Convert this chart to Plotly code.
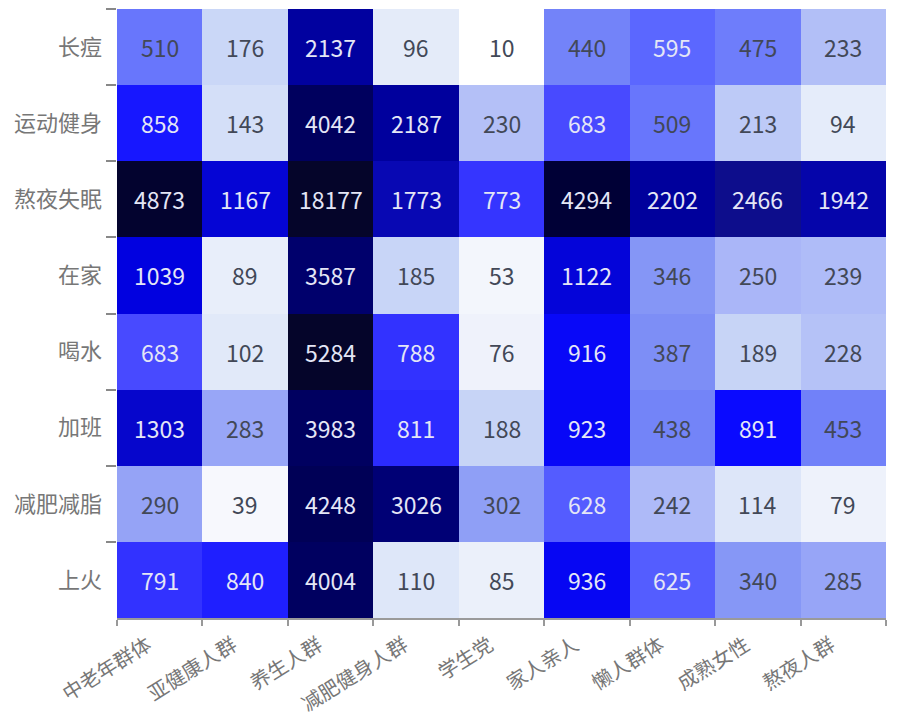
import numpy as np
import plotly.graph_objects as go

# ---------------- data ----------------
groups = ["中老年群体", "亚健康人群", "养生人群", "减肥健身人群", "学生党",
          "家人亲人", "懒人群体", "成熟女性", "熬夜人群"]
topics = ["长痘", "运动健身", "熬夜失眠", "在家", "喝水", "加班", "减肥减脂", "上火"]

row_changdou = [510, 176, 2137, 96, 10, 440, 595, 475, 233]
row_yundong = [858, 143, 4042, 2187, 230, 683, 509, 213, 94]
row_aoye = [4873, 1167, 18177, 1773, 773, 4294, 2202, 2466, 1942]
row_zaijia = [1039, 89, 3587, 185, 53, 1122, 346, 250, 239]
row_heshui = [683, 102, 5284, 788, 76, 916, 387, 189, 228]
row_jiaban = [1303, 283, 3983, 811, 188, 923, 438, 891, 453]
row_jianfei = [290, 39, 4248, 3026, 302, 628, 242, 114, 79]
row_shanghuo = [791, 840, 4004, 110, 85, 936, 625, 340, 285]

values = np.array([row_changdou, row_yundong, row_aoye, row_zaijia,
                   row_heshui, row_jiaban, row_jianfei, row_shanghuo], dtype=float)

# ---------------- style ----------------
vmin, vmax = 10, 5300
color_stops = [
    (10, "#ffffff"), (40, "#f7f8fd"), (80, "#eef2fb"), (100, "#e2eaf9"),
    (150, "#d2ddf8"), (200, "#c4d2f6"), (250, "#aab6f8"), (300, "#909ff6"),
    (400, "#7a8cf6"), (500, "#6a78fc"), (600, "#5a66ff"), (700, "#4545ff"),
    (800, "#3030ff"), (890, "#0a0aff"), (1000, "#0000e4"), (1200, "#0606d2"),
    (1800, "#0808b2"), (2200, "#00009c"), (2500, "#0e0e8a"), (3000, "#000075"),
    (3600, "#00006c"), (4000, "#000060"), (4260, "#000056"), (4290, "#000036"),
    (5300, "#05052a"),
]
lo, hi = np.log10(vmin), np.log10(vmax)
colorscale = [[(np.log10(v) - lo) / (hi - lo), c] for v, c in color_stops]

font_family = "Noto Sans CJK SC, Noto Sans, sans-serif"
dark_text = "#424857"
light_text = "#e4e6f6"
text_threshold = 550

z = np.clip(np.log10(values), lo, hi)

fig = go.Figure(go.Heatmap(
    x=groups, y=topics, z=z,
    colorscale=colorscale, zmin=lo, zmax=hi,
    showscale=False, hoverinfo="skip", xgap=0, ygap=0,
))

annotations = []
for i, t in enumerate(topics):
    for j, g in enumerate(groups):
        v = values[i, j]
        annotations.append(dict(
            x=g, y=t, text=str(int(v)), showarrow=False,
            font=dict(family=font_family, size=23,
                      color=light_text if v >= text_threshold else dark_text),
        ))

# page body has an 8px default margin, so the figure is sized to fit
fig.update_layout(
    width=895, height=710,
    margin=dict(l=109, r=17, t=1, b=100),
    paper_bgcolor="white", plot_bgcolor="white",
    font=dict(family=font_family),
    annotations=annotations,
)
fig.update_xaxes(
    type="category", tickson="boundaries", ticks="outside", ticklen=6,
    tickcolor="#999999", tickwidth=1.5, showline=True, linecolor="#9a9a9a",
    linewidth=2, tickangle=-32, showgrid=False, zeroline=False,
    ticklabelstandoff=6, ticklabelshift=-12, automargin=False,
    tickfont=dict(family=font_family, size=20, color="#777777"),
)
fig.update_yaxes(
    type="category", autorange="reversed", tickson="boundaries",
    ticks="outside", ticklen=10, tickcolor="#888888", tickwidth=1.5,
    showline=False, showgrid=False, zeroline=False,
    ticklabelstandoff=14, automargin=False,
    tickfont=dict(family=font_family, size=22, color="#777777"),
)

fig.write_html("out.html")
